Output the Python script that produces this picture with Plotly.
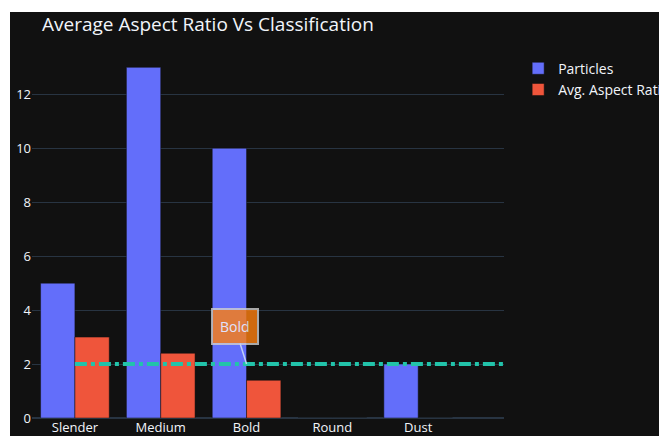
import plotly.graph_objects as go

categories = ["Slender", "Medium", "Bold", "Round", "Dust"]
particles = [5, 13, 10, 0, 2]
avg_aspect_ratio = [3.0, 2.4, 1.4, 0, 0]
reference_value = 2.0
y_ticks = [0, 2, 4, 6, 8, 10, 12]

fig = go.Figure()
fig.add_trace(go.Bar(name="Particles", x=categories, y=particles, marker_color="#636efa"))
fig.add_trace(go.Bar(name="Avg. Aspect Ratio", x=categories, y=avg_aspect_ratio, marker_color="#EF553B"))

# reference line at y = 2
fig.add_shape(type="line", xref="x", yref="y", x0=0, x1=5, y0=reference_value, y1=reference_value,
              line=dict(color="#22c3aa", width=4, dash="dashdot"))

fig.add_annotation(x="Bold", y=reference_value, text="Bold", showarrow=True,
                   ax=-12, ay=-38, arrowhead=0, arrowwidth=1.5, arrowcolor="#d8e8f5",
                   bgcolor="#ff7f0e", bordercolor="#d0d0d0", borderwidth=2, borderpad=7,
                   opacity=0.8, font=dict(size=14, color="#ffffff"))

# white screenshot border (top and left)
fig.add_shape(type="rect", xref="paper", yref="paper", x0=-1, x1=2, y0=1.1003, y1=2,
              fillcolor="white", line=dict(width=0), layer="above")
fig.add_shape(type="rect", xref="paper", yref="paper", x0=-1, x1=-0.0466, y0=-1, y1=2,
              fillcolor="white", line=dict(width=0), layer="above")

fig.update_layout(
    template="plotly_dark",
    width=659, height=436,
    margin=dict(l=32, r=155, t=49, b=18, autoexpand=False),
    title=dict(text="Average Aspect Ratio Vs Classification", xref="container", yref="container",
               x=0.0637, xanchor="left", y=0.945, yanchor="middle",
               font=dict(size=19, color="#f2f5fa")),
    legend=dict(font=dict(size=14), x=1.03, y=0.99),
    font=dict(family="Open Sans"),
)
fig.update_xaxes(range=[-0.5, 5], automargin=False, tickfont=dict(size=13))
fig.update_yaxes(range=[0, 13.68], tickvals=y_ticks, automargin=False, tickfont=dict(size=13))

fig.write_html("out.html")
